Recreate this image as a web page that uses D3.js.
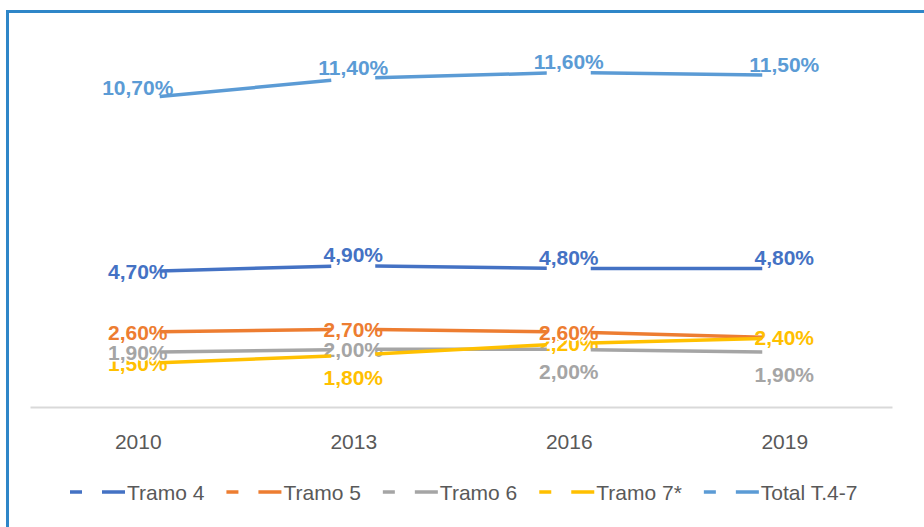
<!DOCTYPE html>
<html>
<head>
<meta charset="utf-8">
<script src="https://cdn.jsdelivr.net/npm/d3@7"></script>
<style>
  body { margin: 0; background: #fff; }
  text { font-family: "Liberation Sans", Arial, sans-serif; }
</style>
</head>
<body>
<div id="chart-area"></div>
<script>
const years = ["2010", "2013", "2016", "2019"];
const seriesNames = ["Tramo 4", "Tramo 5", "Tramo 6", "Tramo 7*", "Total T.4-7"];
const tramo4 = [4.7, 4.9, 4.8, 4.8];
const tramo5 = [2.6, 2.7, 2.6, 2.4];
const tramo6 = [1.9, 2.0, 2.0, 1.9];
const tramo7 = [1.5, 1.8, 2.2, 2.4];
const total = [10.7, 11.4, 11.6, 11.5];
// where each value label sits relative to its point
const placeT4 = ["center", "above", "above", "above"];
const placeT5 = ["center", "center", "center", "none"];
const placeT6 = ["center", "center", "below", "below"];
const placeT7 = ["center", "below", "center", "center"];
const placeTot = ["above", "above", "above", "above"];
const colors = ["#4472c4", "#ed7d31", "#a5a5a5", "#ffc000", "#5b9bd5"];

const series = [tramo4, tramo5, tramo6, tramo7, total].map((vals, i) => ({
  name: seriesNames[i],
  values: vals,
  place: [placeT4, placeT5, placeT6, placeT7, placeTot][i],
  color: colors[i]
}));

const svgWidth = 924, svgHeight = 527;
const plot = { left: 30, right: 892, top: 61, bottom: 407 };

const svg = d3.select("#chart-area")
              .append("svg")
              .attr("width", svgWidth)
              .attr("height", svgHeight);

// frame (only top and left edges are in view)
svg.append("rect")
   .attr("x", 7.5).attr("y", 11.5)
   .attr("width", 940).attr("height", 540)
   .attr("fill", "none")
   .attr("stroke", "#2e86c8")
   .attr("stroke-width", 3);

const x = d3.scalePoint()
            .domain(years)
            .range([plot.left, plot.right])
            .padding(0.5);

const y = d3.scaleLinear()
            .domain([0, 12])
            .range([plot.bottom, plot.top]);

const fmt = v => d3.format(".2f")(v).replace(".", ",") + "%";

const xAxisCall = d3.axisBottom(x).tickSize(0).tickSizeOuter(0).tickPadding(27);
const xAxis = svg.append("g")
   .attr("class", "x axis")
   .attr("transform", `translate(0, ${plot.bottom})`)
   .call(xAxisCall);
xAxis.select(".domain").attr("stroke", "#d9d9d9").attr("stroke-width", 2);
xAxis.selectAll("text")
     .attr("font-size", 21)
     .attr("font-family", "Liberation Sans, Arial, sans-serif")
     .attr("fill", "#595959");

// value labels (drawn under the lines, last series at the back)
const offset = { above: -11, center: 0, below: 22 };
[...series].reverse().forEach(s => {
  svg.append("g")
     .selectAll("text")
     .data(s.values.map((v, i) => ({ v, year: years[i], place: s.place[i] }))
                   .filter(d => d.place !== "none"))
     .enter()
     .append("text")
       .attr("x", d => x(d.year))
       .attr("y", d => y(d.v) + offset[d.place])
       .attr("dy", "0.36em")
       .attr("text-anchor", "middle")
       .attr("font-size", 21)
       .attr("font-weight", "bold")
       .attr("fill", s.color)
       .attr("stroke", "#fff")
       .attr("stroke-width", 3)
       .attr("paint-order", "stroke")
       .text(d => fmt(d.v));
});

// lines: each span between two years is trimmed near the points
const trim = 22;
const line = d3.line().x(d => d[0]).y(d => d[1]);
series.forEach(s => {
  const segs = d3.pairs(s.values.map((v, i) => [x(years[i]), y(v)]))
                 .map(([a, b]) => {
                   const f = trim / (b[0] - a[0]);
                   return [
                     [a[0] + f * (b[0] - a[0]), a[1] + f * (b[1] - a[1])],
                     [b[0] - f * (b[0] - a[0]), b[1] - f * (b[1] - a[1])]
                   ];
                 });
  svg.append("g")
     .selectAll("path")
     .data(segs)
     .enter()
     .append("path")
       .attr("d", line)
       .attr("fill", "none")
       .attr("stroke", s.color)
       .attr("stroke-width", 3.5);
});

// legend
const legendY = 492;
let lx = 70;
series.forEach(s => {
  const item = svg.append("g").attr("transform", `translate(${lx}, ${legendY})`);
  item.append("line")
      .attr("x1", 0).attr("x2", 55)
      .attr("stroke", s.color)
      .attr("stroke-width", 3.5)
      .attr("stroke-dasharray", "12,20,23");
  const t = item.append("text")
      .attr("x", 57)
      .attr("dy", "0.36em")
      .attr("font-size", 21)
      .attr("fill", "#595959")
      .text(s.name);
  lx += 57 + t.node().getComputedTextLength() + 22;
});
</script>
</body>
</html>
